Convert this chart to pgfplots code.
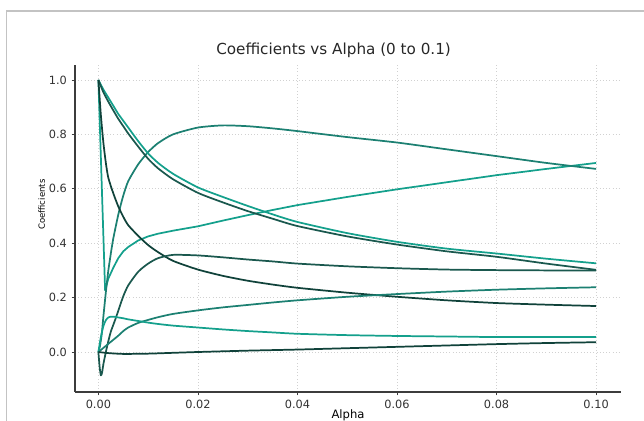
\documentclass[border=0pt]{standalone}
\usepackage{fontspec}
\setmainfont{DejaVu Sans}
\usepackage{pgfplots}
\pgfplotsset{compat=1.18}
\definecolor{tealA}{RGB}{20,160,140}
\definecolor{tealB}{RGB}{28,128,114}
\definecolor{darkC}{RGB}{26,88,78}
\definecolor{darkD}{RGB}{16,66,58}
\definecolor{spine}{RGB}{60,60,60}
\definecolor{frame}{RGB}{195,195,195}
\begin{document}
\begin{tikzpicture}
\useasboundingbox (0,0) rectangle (483pt,315.75pt);
% screenshot frame
\draw[frame, line width=0.8pt] (5pt,0) -- (5pt,307.5pt) -- (483pt,307.5pt);
\begin{axis}[
  at={(56.25pt,21.75pt)}, anchor=south west,
  scale only axis, width=409.5pt, height=245.25pt,
  xmin=-0.0047, xmax=0.105, ymin=-0.147, ymax=1.055,
  axis x line*=bottom, axis y line*=left,
  axis line style={spine, line width=0.8pt, -},
  xtick={0,0.02,0.04,0.06,0.08,0.1},
  ytick={0,0.2,0.4,0.6,0.8,1.0},
  tick align=outside, major tick length=2.6pt,
  tick style={spine, line width=0.6pt},
  xticklabel style={/pgf/number format/fixed, /pgf/number format/fixed zerofill, /pgf/number format/precision=2, /pgf/number format/assume math mode=true, font=\fontsize{8.5}{10}\selectfont, text=black!80},
  yticklabel style={/pgf/number format/fixed, /pgf/number format/fixed zerofill, /pgf/number format/precision=1, /pgf/number format/assume math mode=true, font=\fontsize{8.5}{10}\selectfont, text=black!80},
  scaled x ticks=false,
  grid=major, grid style={black!18, dotted, line width=0.6pt},
  xlabel={Alpha}, ylabel={Coefficients},
  xlabel style={font=\fontsize{8.7}{10}\selectfont, at={(axis description cs:0.5,-0.07)}, anchor=center},
  ylabel style={font=\fontsize{6.4}{7}\selectfont, at={(axis description cs:-0.061,0.573)}, anchor=center},
  every axis plot/.append style={line width=1.3pt, line join=round},
  clip=false,
]
% curve rising after the drop from 1.0
\addplot[tealA] coordinates {(0,1.0)(0.00135,0.227)(0.002,0.27)(0.003,0.31)(0.004,0.345)(0.005,0.37)(0.006,0.386)(0.008,0.41)(0.01,0.425)(0.012,0.435)(0.015,0.446)(0.02,0.462)(0.025,0.483)(0.03,0.503)(0.035,0.522)(0.04,0.54)(0.05,0.57)(0.06,0.598)(0.07,0.624)(0.08,0.65)(0.09,0.673)(0.1,0.695)};
% hump
\addplot[tealB, smooth, tension=0.4] coordinates {(0,0)(0.0003,0.02)(0.0007,0.07)(0.001,0.13)(0.0015,0.22)(0.002,0.3)(0.0027,0.386)(0.003,0.418)(0.004,0.505)(0.005,0.575)(0.006,0.628)(0.008,0.69)(0.01,0.735)(0.012,0.768)(0.015,0.8)(0.02,0.825)(0.025,0.833)(0.03,0.83)(0.035,0.822)(0.04,0.812)(0.05,0.79)(0.06,0.77)(0.07,0.745)(0.08,0.72)(0.09,0.695)(0.1,0.673)};
% two slow decays from 1.0
\addplot[tealA, smooth, tension=0.4] coordinates {(0,1.0)(0.001,0.965)(0.002,0.935)(0.003,0.905)(0.004,0.875)(0.005,0.85)(0.006,0.825)(0.008,0.775)(0.01,0.73)(0.012,0.695)(0.015,0.655)(0.02,0.605)(0.025,0.57)(0.03,0.537)(0.035,0.506)(0.04,0.478)(0.05,0.437)(0.06,0.405)(0.07,0.38)(0.08,0.362)(0.09,0.343)(0.1,0.326)};
\addplot[darkC, smooth, tension=0.4] coordinates {(0,1.0)(0.001,0.955)(0.002,0.92)(0.003,0.888)(0.004,0.857)(0.005,0.83)(0.006,0.803)(0.008,0.755)(0.01,0.71)(0.012,0.675)(0.015,0.635)(0.02,0.585)(0.025,0.55)(0.03,0.518)(0.035,0.49)(0.04,0.463)(0.05,0.425)(0.06,0.395)(0.07,0.37)(0.08,0.35)(0.09,0.325)(0.1,0.302)};
% fast decay from 1.0
\addplot[darkD, smooth, tension=0.4] coordinates {(0,1.0)(0.0005,0.87)(0.001,0.77)(0.0015,0.695)(0.002,0.64)(0.003,0.583)(0.004,0.535)(0.005,0.497)(0.006,0.466)(0.008,0.427)(0.01,0.393)(0.012,0.367)(0.015,0.335)(0.02,0.303)(0.025,0.28)(0.03,0.262)(0.035,0.248)(0.04,0.236)(0.05,0.218)(0.06,0.203)(0.07,0.19)(0.08,0.18)(0.09,0.174)(0.1,0.169)};
% dip then peak at 0.36
\addplot[darkC, smooth, tension=0.4] coordinates {(0,0)(0.00025,-0.055)(0.0005,-0.086)(0.00075,-0.075)(0.001,-0.045)(0.0015,0.0)(0.002,0.04)(0.0025,0.075)(0.003,0.1)(0.0035,0.125)(0.004,0.152)(0.005,0.205)(0.006,0.245)(0.008,0.295)(0.01,0.325)(0.012,0.345)(0.015,0.357)(0.02,0.355)(0.025,0.348)(0.03,0.34)(0.035,0.333)(0.04,0.325)(0.05,0.315)(0.06,0.308)(0.07,0.303)(0.08,0.301)(0.09,0.3)(0.1,0.3)};
% slow rise to 0.24
\addplot[tealB, smooth, tension=0.4] coordinates {(0,0)(0.001,0.015)(0.002,0.03)(0.003,0.045)(0.004,0.06)(0.005,0.077)(0.006,0.09)(0.008,0.107)(0.01,0.118)(0.012,0.128)(0.015,0.14)(0.02,0.153)(0.025,0.164)(0.03,0.173)(0.035,0.182)(0.04,0.19)(0.05,0.203)(0.06,0.213)(0.07,0.222)(0.08,0.229)(0.09,0.234)(0.1,0.238)};
% small peak at 0.13
\addplot[tealA, smooth, tension=0.4] coordinates {(0,0)(0.0005,0.055)(0.001,0.095)(0.0015,0.117)(0.002,0.127)(0.0025,0.13)(0.003,0.13)(0.004,0.127)(0.005,0.124)(0.006,0.12)(0.008,0.114)(0.01,0.108)(0.012,0.103)(0.015,0.097)(0.02,0.09)(0.025,0.083)(0.03,0.077)(0.035,0.072)(0.04,0.067)(0.05,0.062)(0.06,0.059)(0.07,0.057)(0.08,0.055)(0.09,0.055)(0.1,0.055)};
% near zero
\addplot[darkD, smooth, tension=0.4] coordinates {(0,0)(0.002,-0.004)(0.005,-0.007)(0.01,-0.006)(0.015,-0.003)(0.02,0.0)(0.03,0.005)(0.04,0.009)(0.05,0.014)(0.06,0.019)(0.07,0.024)(0.08,0.029)(0.09,0.033)(0.1,0.036)};
\end{axis}
\node[font=\fontsize{11.4}{13}\selectfont, text=black!85] at (250.2pt,278.25pt) {Coefficients vs Alpha (0 to 0.1)};
\end{tikzpicture}
\end{document}
